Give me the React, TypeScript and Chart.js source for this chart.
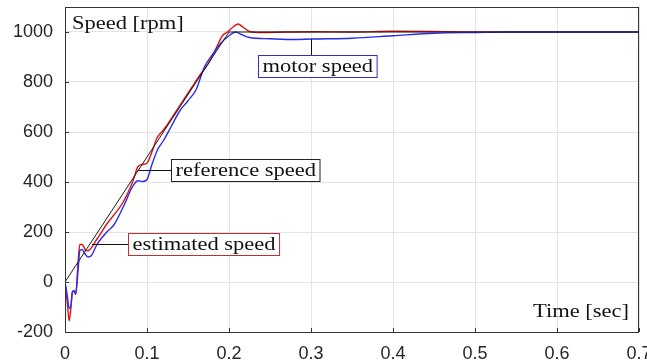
import React, { useEffect, useRef } from "react";
import { Chart, registerables } from "chart.js";

Chart.register(...registerables);

// ---- data (time in s, speed in rpm) ----
const refTime = [0, 0.2, 0.7];
const refSpeed = [0, 1000, 1000];

const estTime = [0, 0.003, 0.005, 0.007, 0.009, 0.011, 0.013, 0.016, 0.018, 0.021, 0.025, 0.028, 0.039, 0.051, 0.071, 0.083, 0.089, 0.094, 0.1, 0.106, 0.112, 0.118, 0.125, 0.135, 0.145, 0.155, 0.165, 0.175, 0.185, 0.192, 0.198, 0.205, 0.211, 0.217, 0.225, 0.24, 0.27, 0.3, 0.35, 0.4, 0.45, 0.5, 0.7];
const estSpeed = [0, -90, -155, -110, -40, -35, -50, 80, 150, 150, 128, 125, 172, 232, 320, 405, 462, 470, 476, 520, 575, 600, 630, 680, 730, 780, 830, 875, 940, 985, 1000, 1020, 1032, 1020, 1002, 998, 1000, 1001, 1000, 1003, 1002, 1000, 1000];

const motorTime = [0, 0.003, 0.005, 0.007, 0.009, 0.011, 0.013, 0.016, 0.018, 0.021, 0.024, 0.028, 0.032, 0.039, 0.051, 0.06, 0.071, 0.083, 0.089, 0.095, 0.1, 0.106, 0.113, 0.12, 0.13, 0.14, 0.15, 0.16, 0.17, 0.18, 0.19, 0.2, 0.208, 0.215, 0.225, 0.25, 0.28, 0.3, 0.35, 0.4, 0.45, 0.5, 0.55, 0.7];
const motorSpeed = [0, -60, -105, -100, -40, -35, -48, 50, 125, 130, 115, 100, 105, 150, 200, 230, 300, 385, 405, 402, 410, 470, 530, 565, 625, 685, 725, 770, 860, 910, 955, 985, 1000, 990, 978, 973, 970, 972, 975, 985, 995, 998, 1000, 1000];

const xTicks = [0, 0.1, 0.2, 0.3, 0.4, 0.5, 0.6, 0.7];
const yTicks = [-200, 0, 200, 400, 600, 800, 1000];

const yLabel = "Speed [rpm]";
const xLabel = "Time [sec]";

// annotation boxes: label, centre (data units), border colour, leader start (data units)
const boxLabels = ["motor speed", "reference speed", "estimated speed"];
const boxCenterT = [0.308, 0.22, 0.1695];
const boxCenterV = [866, 448, 152];
const boxColors = ["#3030c0", "#222222", "#c03030"];
const leaderT = [0.3, 0.089, 0.033];
const leaderV = [972, 440, 152];

const toXY = (ts: number[], vs: number[]) => ts.map((t, i) => ({ x: t, y: vs[i] }));

const SERIF = "'Liberation Serif', 'Times New Roman', serif";
const SX = 1.25;

function drawStretched(ctx: CanvasRenderingContext2D, text: string, x: number, y: number) {
  ctx.save();
  ctx.translate(x, y);
  ctx.scale(SX, 1);
  ctx.fillText(text, 0, 0);
  ctx.restore();
}

const framePlugin = {
  id: "frame",
  afterDraw(chart: any) {
    const { ctx, chartArea: a, scales } = chart;
    const xs = scales.x;
    const ys = scales.y;
    ctx.save();
    ctx.strokeStyle = "#333";
    ctx.lineWidth = 1;
    ctx.strokeRect(a.left + 0.5, a.top + 0.5, a.right - a.left - 1, a.bottom - a.top);
    // inward ticks
    ctx.beginPath();
    xTicks.forEach((t) => {
      const px = Math.round(xs.getPixelForValue(t)) + 0.5;
      ctx.moveTo(px, a.bottom);
      ctx.lineTo(px, a.bottom - 4);
    });
    yTicks.forEach((v) => {
      const py = Math.round(ys.getPixelForValue(v)) + 0.5;
      ctx.moveTo(a.left, py);
      ctx.lineTo(a.left + 4, py);
    });
    ctx.stroke();

    ctx.font = `18px ${SERIF}`;
    ctx.fillStyle = "#111";
    ctx.textBaseline = "alphabetic";
    drawStretched(ctx, yLabel, a.left + 7, a.top + 22);
    const wx = ctx.measureText(xLabel).width * SX;
    drawStretched(ctx, xLabel, a.right - 10 - wx, a.bottom - 15);

    for (let i = 0; i < boxLabels.length; i++) {
      const cx = xs.getPixelForValue(boxCenterT[i]);
      const cy = ys.getPixelForValue(boxCenterV[i]);
      const tw = ctx.measureText(boxLabels[i]).width * SX;
      const bw = tw + 8;
      const bh = 22;
      const bx = Math.round(cx - bw / 2) + 0.5;
      const by = Math.round(cy - bh / 2) + 0.5;
      // leader
      const lx = xs.getPixelForValue(leaderT[i]);
      const ly = ys.getPixelForValue(leaderV[i]);
      ctx.strokeStyle = "#111";
      ctx.lineWidth = 1;
      ctx.beginPath();
      if (i === 0) {
        ctx.moveTo(Math.round(lx) + 0.5, ly);
        ctx.lineTo(Math.round(lx) + 0.5, by);
      } else {
        ctx.moveTo(lx, Math.round(cy) + 0.5);
        ctx.lineTo(bx, Math.round(cy) + 0.5);
      }
      ctx.stroke();
      ctx.fillStyle = "#fff";
      ctx.fillRect(bx, by, bw, bh);
      ctx.strokeStyle = boxColors[i];
      ctx.strokeRect(bx, by, bw, bh);
      ctx.fillStyle = "#111";
      drawStretched(ctx, boxLabels[i], bx + 4, by + 16);
    }
    ctx.restore();
  },
};

export default function App() {
  const ref = useRef<HTMLCanvasElement>(null);
  useEffect(() => {
    document.body.style.margin = "0";
    const chart = new Chart(ref.current!, {
      type: "line",
      data: {
        datasets: [
          {
            label: "reference speed",
            data: toXY(refTime, refSpeed),
            borderColor: "#1a1a1a",
            borderWidth: 1,
            pointRadius: 0,
            tension: 0,
          },
          {
            label: "motor speed",
            data: toXY(motorTime, motorSpeed),
            borderColor: "#2a2af0",
            borderWidth: 1.4,
            pointRadius: 0,
            cubicInterpolationMode: "monotone",
          },
          {
            label: "estimated speed",
            data: toXY(estTime, estSpeed),
            borderColor: "#e01010",
            borderWidth: 1.4,
            pointRadius: 0,
            cubicInterpolationMode: "monotone",
          },
        ],
      },
      options: {
        animation: false,
        responsive: false,
        devicePixelRatio: 1,
        layout: { padding: { top: 7, right: 8, left: 0, bottom: 0 } },
        plugins: { legend: { display: false }, tooltip: { enabled: false } },
        scales: {
          x: {
            type: "linear",
            min: 0,
            max: 0.7,
            afterBuildTicks: (s: any) => {
              s.ticks = xTicks.map((v) => ({ value: v }));
            },
            afterFit: (s: any) => {
              s.height = 32;
              s.paddingLeft = 0;
              s.paddingRight = 0;
            },
            grid: { color: "#e3e3e3", drawTicks: false },
            border: { display: false },
            ticks: {
              padding: 11,
              color: "#262626",
              font: { family: "'Liberation Sans', Arial, sans-serif", size: 18 },
              maxRotation: 0,
              autoSkip: false,
              callback: (v: any) => String(Math.round(Number(v) * 10) / 10),
            },
          },
          y: {
            type: "linear",
            min: -200,
            max: 1100,
            afterBuildTicks: (s: any) => {
              s.ticks = yTicks.map((v) => ({ value: v }));
            },
            afterFit: (s: any) => {
              s.width = 65;
              s.paddingTop = 0;
              s.paddingBottom = 0;
            },
            grid: { color: "#e3e3e3", drawTicks: false },
            border: { display: false },
            ticks: {
              padding: 12,
              color: "#262626",
              font: { family: "'Liberation Sans', Arial, sans-serif", size: 18 },
              autoSkip: false,
              callback: (v: any) => String(v),
            },
          },
        },
      },
      plugins: [framePlugin],
    } as any);
    return () => chart.destroy();
  }, []);
  return <canvas ref={ref} width={647} height={364} style={{ display: "block", width: 647, height: 364 }} />;
}
